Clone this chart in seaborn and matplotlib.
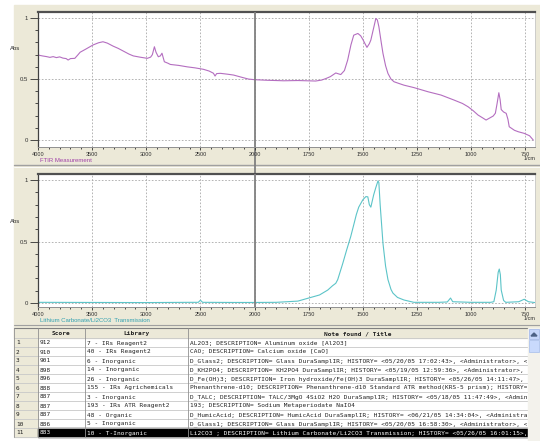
import numpy as np
import matplotlib
matplotlib.use("Agg")
import matplotlib.pyplot as plt
import seaborn as sns
from matplotlib.patches import Rectangle, Polygon
from matplotlib.transforms import Bbox, TransformedBbox

# --- spectrum 1: FTIR measurement (purple) ---
meas_wn = [4000, 3960, 3920, 3890, 3860, 3830, 3800, 3770, 3740, 3722, 3700, 3660, 3630,
           3611, 3560, 3491, 3440, 3400, 3360, 3306, 3260, 3213, 3160, 3120, 3060, 2991,
           2960, 2944, 2925, 2910, 2889, 2870, 2855, 2845, 2833, 2800, 2778, 2700, 2620,
           2550, 2472, 2420, 2380, 2365, 2350, 2315, 2250, 2194, 2120, 2056, 2000, 1940,
           1900, 1866, 1800, 1718, 1690, 1671, 1650, 1625, 1602, 1585, 1570, 1555, 1542,
           1523, 1510, 1500, 1490, 1481, 1470, 1463, 1450, 1440, 1433, 1426, 1415, 1407,
           1395, 1384, 1370, 1356, 1330, 1310, 1264, 1199, 1139, 1079, 1040, 1014, 990,
           968, 945, 931, 915, 898, 888, 880, 872, 866, 861, 850, 838, 830, 824, 800, 782,
           755, 730, 713]
meas_abs = [0.697, 0.690, 0.684, 0.678, 0.684, 0.676, 0.682, 0.672, 0.668, 0.656, 0.668,
            0.670, 0.700, 0.720, 0.745, 0.780, 0.798, 0.806, 0.795, 0.770, 0.752, 0.730,
            0.705, 0.690, 0.680, 0.670, 0.680, 0.700, 0.765, 0.720, 0.683, 0.690, 0.712,
            0.680, 0.642, 0.630, 0.620, 0.612, 0.600, 0.592, 0.580, 0.566, 0.548, 0.525,
            0.545, 0.547, 0.540, 0.533, 0.515, 0.500, 0.495, 0.490, 0.488, 0.486, 0.488,
            0.484, 0.492, 0.504, 0.520, 0.550, 0.537, 0.570, 0.656, 0.780, 0.860, 0.874,
            0.855, 0.825, 0.790, 0.760, 0.790, 0.820, 0.920, 0.997, 0.985, 0.930, 0.800,
            0.710, 0.610, 0.546, 0.500, 0.478, 0.462, 0.450, 0.430, 0.396, 0.369, 0.328,
            0.300, 0.273, 0.240, 0.205, 0.180, 0.164, 0.180, 0.197, 0.220, 0.300, 0.388,
            0.330, 0.250, 0.230, 0.219, 0.170, 0.109, 0.080, 0.068, 0.055, 0.035, 0.000]

# --- spectrum 2: library hit Li2CO3 (teal) ---
lib_wn = [4000, 3500, 3000, 2600, 2520, 2500, 2480, 2200, 2000, 1900, 1800, 1750, 1700,
          1662, 1640, 1625, 1616, 1593, 1575, 1556, 1540, 1530, 1519, 1500, 1486, 1477,
          1470, 1463, 1450, 1440, 1430, 1426, 1420, 1407, 1395, 1389, 1384, 1370, 1361,
          1340, 1310, 1264, 1150, 1110, 1095, 1085, 1000, 910, 895, 884, 875, 870, 865,
          861, 850, 840, 780, 755, 735, 705]
lib_abs = [0.005, 0.004, 0.003, 0.005, 0.005, 0.022, 0.005, 0.004, 0.004, 0.005, 0.015,
           0.040, 0.065, 0.105, 0.140, 0.160, 0.190, 0.320, 0.430, 0.540, 0.650, 0.720,
           0.780, 0.840, 0.866, 0.864, 0.800, 0.780, 0.880, 0.940, 0.994, 0.980, 0.800,
           0.485, 0.300, 0.240, 0.190, 0.110, 0.080, 0.045, 0.024, 0.005, 0.005, 0.008,
           0.040, 0.010, 0.005, 0.005, 0.010, 0.105, 0.250, 0.276, 0.230, 0.105, 0.020,
           0.005, 0.010, 0.030, 0.010, 0.003]

# --- search result table ---
scores = [912, 910, 901, 898, 896, 888, 887, 887, 887, 886, 883]
libraries = ["7 - IRs Reagent2", "40 - IRs Reagent2", "6 - Inorganic", "14 - Inorganic",
             "26 - Inorganic", "155 - IRs Agrichemicals", "3 - Inorganic",
             "193 - IRs ATR Reagent2", "48 - Organic", "5 - Inorganic", "10 - T-Inorganic"]
titles = [
    "AL2O3; DESCRIPTION= Aluminum oxide [Al2O3]",
    "CAO; DESCRIPTION= Calcium oxide [CaO]",
    "D_Glass2; DESCRIPTION= Glass DuraSamplIR; HISTORY= <05/20/05 17:02:43>, <Administrator>, <",
    "D_KH2PO4; DESCRIPTION= KH2PO4 DuraSamplIR; HISTORY= <05/19/05 12:59:36>, <Administrator>,",
    "D_Fe(OH)3; DESCRIPTION= Iron hydroxide/Fe(OH)3 DuraSamplIR; HISTORY= <05/26/05 14:11:47>,",
    "Phenanthrene-d10; DESCRIPTION= Phenanthrene-d10 Standard ATR method(KRS-5 prism); HISTORY=",
    "D_TALC; DESCRIPTION= TALC/3MgO 4SiO2 H2O DuraSamplIR; HISTORY= <05/18/05 11:47:49>, <Admin",
    "193; DESCRIPTION= Sodium Metaperiodate NaIO4",
    "D_HumicAcid; DESCRIPTION= HumicAcid DuraSamplIR; HISTORY= <06/21/05 14:34:04>, <Administra",
    "D_Glass1; DESCRIPTION= Glass DuraSamplIR; HISTORY= <05/20/05 16:58:30>, <Administrator>, <",
    "Li2CO3 ; DESCRIPTION= Lithium Carbonate/Li2CO3 Transmission; HISTORY= <05/26/05 16:01:15>,",
]
selected_row = 11

major_wn = [4000, 3500, 3000, 2500, 2000, 1750, 1500, 1250, 1000, 750]

sns.set_theme(style="white")
plt.rcParams['font.family'] = ['Liberation Sans', 'DejaVu Sans']

W, H = 540, 441
BEIGE = '#ECE9D8'
PURPLE = '#B46EC0'
TEAL = '#5CC4C8'

fig = plt.figure(figsize=(W / 100, H / 100), dpi=100)
fig.patch.set_facecolor('white')

bg = fig.add_axes([0, 0, 1, 1], zorder=0)
bg.set_xlim(0, W)
bg.set_ylim(H, 0)
bg.axis('off')
bg.add_patch(Rectangle((14, 5), W - 14, 323, color=BEIGE, zorder=0))
bg.plot([14, W], [165, 165], color='#A0A0A0', lw=1.0)
bg.plot([14, W], [166.5, 166.5], color='white', lw=0.6)
bg.plot([254.5, 254.5], [147, 174], color='#808080', lw=1.3, zorder=5)


def brk_fwd(x):
    x = np.asarray(x, dtype=float)
    return np.where(x >= 2000, x, 2 * x - 2000)


def brk_inv(y):
    y = np.asarray(y, dtype=float)
    return np.where(y >= 2000, y, (y + 2000) / 2)


def px_axes(l, t, r, b):
    return fig.add_axes([l / W, 1 - b / H, (r - l) / W, (b - t) / H], zorder=2)


minor_wn = [w for w in range(3900, 2000, -100) if w % 500] + \
           [w for w in range(1950, 700, -50) if w % 250]


def style_axes(ax, ylo, label, label_color, abs_y):
    ax.set_facecolor('white')
    ax.set_xscale('function', functions=(brk_fwd, brk_inv))
    ax.set_xlim(4000, 705)
    ax.set_ylim(ylo, 1.05)
    ax.set_xticks(major_wn)
    ax.set_xticklabels([str(w) for w in major_wn])
    ax.set_xticks(minor_wn, minor=True)
    ax.set_yticks([0, 0.5, 1])
    ax.set_yticklabels(['0', '0.5', '1'])
    ax.set_yticks(np.arange(0.1, 1.0, 0.1), minor=True)
    ax.tick_params(axis='x', which='major', direction='out', length=2, width=0.6,
                   pad=1.5, labelsize=4, colors='#303030', bottom=True)
    ax.tick_params(axis='x', which='minor', direction='out', length=1.5, width=0.6,
                   color='#303030', bottom=True)
    ax.tick_params(axis='y', which='major', direction='out', length=6, width=0.6,
                   pad=1, labelsize=4.3, colors='#303030', left=True)
    ax.tick_params(axis='y', which='minor', direction='out', length=2.4, width=0.6,
                   color='#303030', left=True)
    ax.grid(True, which='major', color='#A8A8A8', lw=0.6, linestyle=(0, (2, 2)))
    for side, c, w in [('top', '#505050', 1.6), ('left', '#404040', 0.9),
                       ('bottom', '#909090', 0.7), ('right', '#C8C8C8', 0.6)]:
        ax.spines[side].set_color(c)
        ax.spines[side].set_linewidth(w)
    ax.axvline(2000, color='#808080', lw=1.3, zorder=5)
    ax.text(-0.036, abs_y, 'Abs', transform=ax.get_yaxis_transform(), fontsize=4.3,
            color='#303030', ha='right', va='center')
    ax.text(0.005, -0.085, label, transform=ax.transAxes, fontsize=4.3,
            color=label_color, ha='left', va='top')
    ax.text(1.0, -0.065, '1/cm', transform=ax.transAxes, fontsize=4,
            color='#303030', ha='right', va='top')


ax1 = px_axes(38, 12, 535, 147)
sns.lineplot(x=meas_wn, y=meas_abs, ax=ax1, color=PURPLE, lw=0.8, estimator=None)
style_axes(ax1, -0.057, 'FTIR Measurement', '#A040A8', 0.75)

ax2 = px_axes(38, 174, 535, 307)
sns.lineplot(x=lib_wn, y=lib_abs, ax=ax2, color=TEAL, lw=0.8, estimator=None)
style_axes(ax2, -0.033, 'Lithium Carbonate/Li2CO3  Transmission', '#30A0B0', 0.66)

# --- table ---
bg.plot([14, W], [325, 325], color='#A0A0A0', lw=0.8)
tab_top, head_h, row_h = 328, 10, 9
cols = [14, 38, 85, 188, 528]
n = len(scores)
tab_bot = tab_top + head_h + n * row_h
bg.add_patch(Rectangle((14, tab_top), W - 14, H - tab_top, color='white', zorder=1))
bg.add_patch(Rectangle((14, tab_top), cols[-1] - 14, head_h, color=BEIGE, zorder=1))
bg.add_patch(Rectangle((14, tab_top), cols[1] - 14, tab_bot - tab_top, color=BEIGE, zorder=1))
sel_y = tab_top + head_h + (selected_row - 1) * row_h
bg.add_patch(Rectangle((cols[1], sel_y), cols[-1] - cols[1], row_h, color='black', zorder=1.5))

for i in range(n + 1):
    yy = tab_top + head_h + i * row_h
    bg.plot([14, cols[-1]], [yy, yy], color='#C8C8C8', lw=0.6, zorder=2)
bg.plot([14, cols[-1]], [tab_top, tab_top], color='#808080', lw=0.8, zorder=2)
for xx in cols:
    bg.plot([xx, xx], [tab_top, tab_bot], color='#909090', lw=0.6, zorder=2)

mono = 'DejaVu Sans Mono'
hy = tab_top + head_h / 2 + 0.5
for (a, b), txt in zip([(cols[1], cols[2]), (cols[2], cols[3]), (cols[3], cols[4])],
                       ['Score', 'Library', 'Note found / Title']):
    bg.text((a + b) / 2, hy, txt, family=mono, fontsize=4.4, fontweight='bold',
            ha='center', va='center', color='#202020', zorder=3)

note_clip = TransformedBbox(Bbox([[cols[3], 0], [cols[4] - 1, H]]), bg.transData)
for i in range(n):
    yy = tab_top + head_h + i * row_h + row_h / 2 + 0.5
    sel = (i + 1) == selected_row
    c = 'white' if sel else '#202020'
    bg.text(16, yy, str(i + 1), family=mono, fontsize=4.4, ha='left', va='center',
            color='#202020', zorder=3)
    bg.text(cols[1] + 2, yy, str(scores[i]), family=mono, fontsize=4.4, ha='left',
            va='center', color=c, zorder=3)
    bg.text(cols[2] + 2, yy, libraries[i], family=mono, fontsize=4.4, ha='left',
            va='center', color=c, zorder=3)
    t = bg.text(cols[3] + 2, yy, titles[i], family=mono, fontsize=4.4, ha='left',
                va='center', color=c, zorder=3)
    t.set_clip_box(note_clip)
    t.set_clip_on(True)

# scrollbar
bg.add_patch(Rectangle((cols[-1], tab_top), W - cols[-1], H - tab_top, color='#F3F2EC', zorder=2))
bg.add_patch(Rectangle((cols[-1] + 1, tab_top + 1), W - cols[-1] - 2, 10, facecolor='#C6D6FA',
                       edgecolor='#9DB4E8', lw=0.5, zorder=3))
bg.add_patch(Polygon([[531, 336], [534, 333], [537, 336]], closed=True, color='#4D6185', zorder=4))
bg.add_patch(Rectangle((cols[-1] + 1, tab_top + 12), W - cols[-1] - 2, 12, facecolor='#C9DAFC',
                       edgecolor='#A6BDEB', lw=0.5, zorder=3))

fig.savefig('out.png', dpi=100)
